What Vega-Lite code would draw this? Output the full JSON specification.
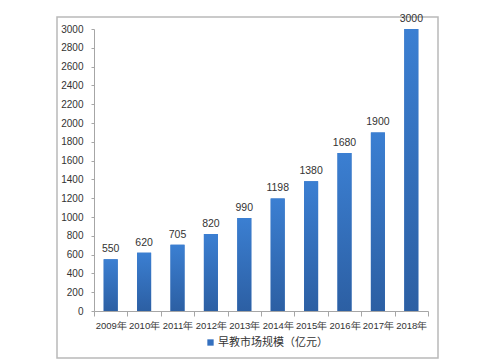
{
  "$schema": "https://vega.github.io/schema/vega-lite/v6.json",
  "autosize": "none",
  "width": 381,
  "height": 341,
  "padding": {"left": 57, "top": 17, "right": 62, "bottom": 4},
  "background": "white",
  "config": {
    "view": {"stroke": "#b9b9b9", "strokeWidth": 1.5},
    "font": "Liberation Sans",
    "axis": {"domainColor": "#a6a6a6", "tickColor": "#a6a6a6", "labelColor": "#333333", "labelFont": "Liberation Sans", "labelFontSize": 10, "grid": false, "title": null}
  },
  "data": {
    "values": [
      {"year": "2009年", "value": 550, "series": "早教市场规模（亿元）"},
      {"year": "2010年", "value": 620, "series": "早教市场规模（亿元）"},
      {"year": "2011年", "value": 705, "series": "早教市场规模（亿元）"},
      {"year": "2012年", "value": 820, "series": "早教市场规模（亿元）"},
      {"year": "2013年", "value": 990, "series": "早教市场规模（亿元）"},
      {"year": "2014年", "value": 1198, "series": "早教市场规模（亿元）"},
      {"year": "2015年", "value": 1380, "series": "早教市场规模（亿元）"},
      {"year": "2016年", "value": 1680, "series": "早教市场规模（亿元）"},
      {"year": "2017年", "value": 1900, "series": "早教市场规模（亿元）"},
      {"year": "2018年", "value": 3000, "series": "早教市场规模（亿元）"}
    ]
  },
  "encoding": {
    "x": {
      "field": "year", "type": "nominal", "sort": null,
      "scale": {"range": [37, 371], "paddingInner": 0, "paddingOuter": 0},
      "axis": {"offset": -47, "tickBand": "extent", "labelAngle": 0, "tickSize": 5, "labelPadding": 4, "labelFontSize": 9.5}
    },
    "y": {
      "field": "value", "type": "quantitative",
      "scale": {"domain": [0, 3000], "range": [294, 12], "nice": false},
      "axis": {"offset": -37, "format": "d", "values": [0,200,400,600,800,1000,1200,1400,1600,1800,2000,2200,2400,2600,2800,3000], "tickSize": 3, "labelPadding": 8, "labelFontSize": 10}
    }
  },
  "layer": [
    {
      "mark": {"type": "bar", "width": {"band": 0.42}},
      "encoding": {
        "color": {
          "field": "series", "type": "nominal",
          "scale": {"range": ["#3470bf"]},
          "legend": {"orient": "none", "legendX": 148, "legendY": 320, "title": null, "symbolType": "square", "symbolSize": 40, "labelFont": "Noto Sans CJK SC", "labelFontSize": 11, "labelColor": "#333333", "labelOffset": 2}
        }
      }
    },
    {
      "mark": {"type": "bar", "width": {"band": 0.42}, "color": {"gradient": "linear", "x1": 0, "y1": 0, "x2": 0, "y2": 1, "stops": [{"offset": 0, "color": "#3b7fd2"}, {"offset": 1, "color": "#2c5fa3"}]}}
    },
    {
      "mark": {"type": "text", "dy": -10, "fontSize": 10.5, "color": "#333333"},
      "encoding": {"text": {"field": "value", "type": "quantitative", "format": "d"}}
    }
  ]
}
